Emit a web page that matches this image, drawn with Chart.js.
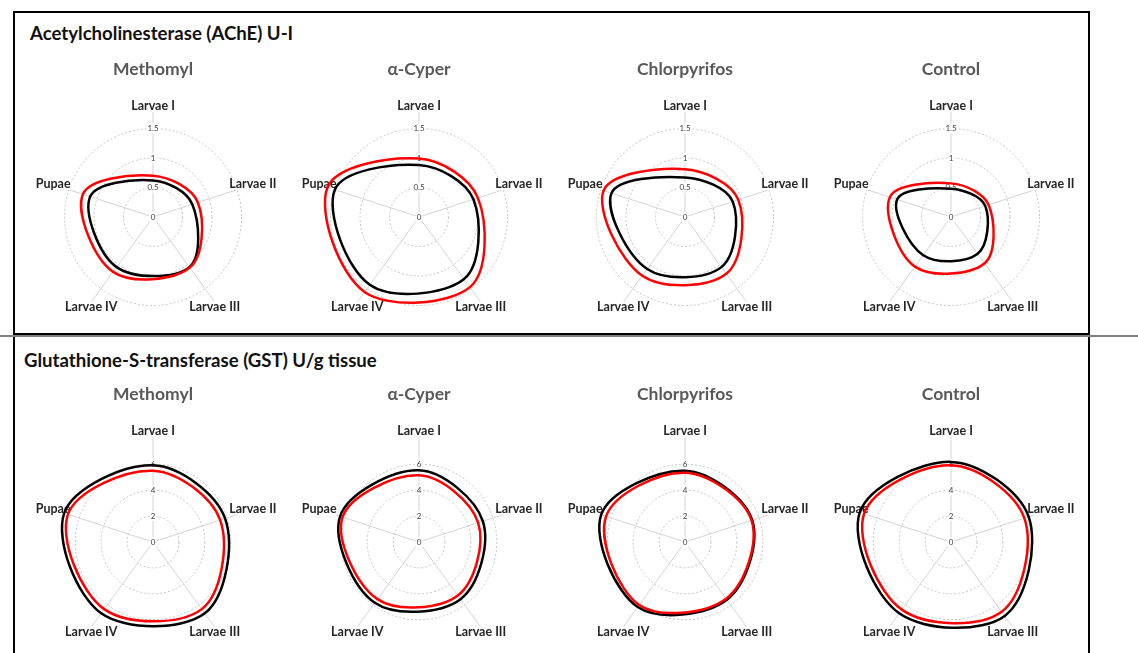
<!DOCTYPE html>
<html>
<head>
<meta charset="utf-8">
<script src="https://cdn.jsdelivr.net/npm/chart.js@4.4.1/dist/chart.umd.min.js"></script>
<style>
  body { margin: 0; width: 1138px; height: 653px; overflow: hidden; background: #fff; position: relative; font-family: Lato, "Noto Sans", sans-serif; }
  .panel { position: absolute; left: 13px; width: 1077px; border: 2px solid #000; box-sizing: border-box; }
  #p1 { top: 11px; height: 324px; }
  #p2 { top: 335px; height: 340px; }
  .rule { position: absolute; left: 0; top: 335px; width: 1138px; height: 2px; background: #808080; }
  .ptitle { position: absolute; font-weight: bold; font-size: 18.6px; line-height: 22px; color: #111; white-space: nowrap; }
  canvas { position: absolute; }
</style>
</head>
<body>
<div class="panel" id="p1"></div>
<div class="panel" id="p2"></div>
<div class="rule"></div>
<div class="ptitle" style="left:30px;top:22px">Acetylcholinesterase (AChE) U-I</div>
<div class="ptitle" style="left:24px;top:349px">Glutathione-S-transferase (GST) U/g tissue</div>
<div id="charts"></div>

<script>
const stages = ["Larvae I", "Larvae II", "Larvae III", "Larvae IV", "Pupae"];
const insecticides = ["Methomyl", "α-Cyper", "Chlorpyrifos", "Control"];

// AChE (U-I), one row per insecticide, values per stage
const acheRed = [
  [0.70, 0.80, 1.06, 1.15, 1.25],
  [0.99, 1.05, 1.47, 1.57, 1.63],
  [0.81, 0.95, 1.19, 1.23, 1.45],
  [0.57, 0.67, 0.97, 1.04, 1.09]
];
const acheBlack = [
  [0.62, 0.70, 1.05, 1.05, 1.12],
  [0.88, 0.97, 1.30, 1.42, 1.50],
  [0.67, 0.85, 1.05, 1.09, 1.31],
  [0.48, 0.61, 0.77, 0.80, 0.96]
];
const acheTicks = [0, 0.5, 1, 1.5];
const acheMax = 1.78;

// GST (U/g tissue)
const gstRed = [
  [5.50, 5.45, 6.40, 6.40, 6.90],
  [5.14, 4.80, 5.10, 5.45, 6.20],
  [5.35, 5.40, 5.40, 6.00, 6.40],
  [5.92, 5.95, 6.65, 6.45, 7.05]
];
const gstBlack = [
  [5.92, 5.85, 6.80, 6.80, 7.20],
  [5.53, 5.18, 5.45, 5.80, 6.40],
  [5.50, 5.45, 5.50, 6.20, 6.80],
  [6.18, 6.30, 7.05, 6.80, 7.40]
];
const gstTicks = [0, 2, 4, 6];
const gstMax = 8.1;

const FONT = 'Lato, "Noto Sans", sans-serif';
Chart.defaults.font.family = FONT;

// vertical nudge of each stage label from the end of its spoke
const labelShift = [-6, -0.5, 5.5, 5.5, -0.5];

const stageLabels = {
  id: "stageLabels",
  beforeDatasetsDraw(chart) {
    const scale = chart.scales.r;
    const ctx = chart.ctx;
    ctx.save();
    ctx.font = "bold 12.5px " + FONT;
    ctx.textAlign = "center";
    ctx.textBaseline = "middle";
    chart.data.labels.forEach((label, i) => {
      const p = scale.getPointPosition(i, scale.drawingArea);
      const y = p.y + labelShift[i];
      const w = ctx.measureText(label).width;
      ctx.fillStyle = "#fff";
      ctx.fillRect(p.x - w / 2 - 1, y - 6, w + 2, 12);
      ctx.fillStyle = "#262626";
      ctx.fillText(label, p.x, y);
    });
    ctx.restore();
  }
};

function makeRadar(left, top, title, red, black, ticks, max) {
  const canvas = document.createElement("canvas");
  canvas.width = 266;
  canvas.height = 280;
  canvas.style.left = left + "px";
  canvas.style.top = top + "px";
  document.getElementById("charts").appendChild(canvas);

  return new Chart(canvas.getContext("2d"), {
    type: "radar",
    data: {
      labels: stages,
      datasets: [
        { label: "Series 1", data: red, borderColor: "#ff0000", borderWidth: 2.5, fill: false, pointRadius: 0, tension: 0.35 },
        { label: "Series 2", data: black, borderColor: "#000000", borderWidth: 2.5, fill: false, pointRadius: 0, tension: 0.35 }
      ]
    },
    options: {
      responsive: false,
      animation: false,
      layout: { padding: { bottom: 4 } },
      plugins: {
        legend: { display: false },
        tooltip: { enabled: false },
        title: {
          display: true,
          text: title,
          color: "#595959",
          font: { size: 17.5, weight: "bold", family: FONT },
          padding: { top: 7.5, bottom: 27.5 }
        }
      },
      scales: {
        r: {
          min: 0,
          max: max,
          afterBuildTicks: scale => {
            // leading dummy tick so the centre "0" label is drawn too
            scale.ticks = [{ value: 0 }].concat(ticks.map(v => ({ value: v })));
          },
          ticks: {
            callback: v => String(v),
            font: { size: 8, family: FONT },
            color: "#404040",
            backdropColor: "#ffffff",
            backdropPadding: 1
          },
          grid: { circular: true, color: "#c4c4c4", lineWidth: 1 },
          border: { dash: [2, 2] },
          angleLines: { color: "#d4d4d4", lineWidth: 1 },
          pointLabels: { display: false }
        }
      }
    },
    plugins: [stageLabels]
  });
}

window.addEventListener("DOMContentLoaded", () => {
  insecticides.forEach((name, k) => {
    makeRadar(20 + k * 266, 51, name, acheRed[k], acheBlack[k], acheTicks, acheMax);
    makeRadar(20 + k * 266, 376, name, gstRed[k], gstBlack[k], gstTicks, gstMax);
  });
});
</script>
</body>
</html>
